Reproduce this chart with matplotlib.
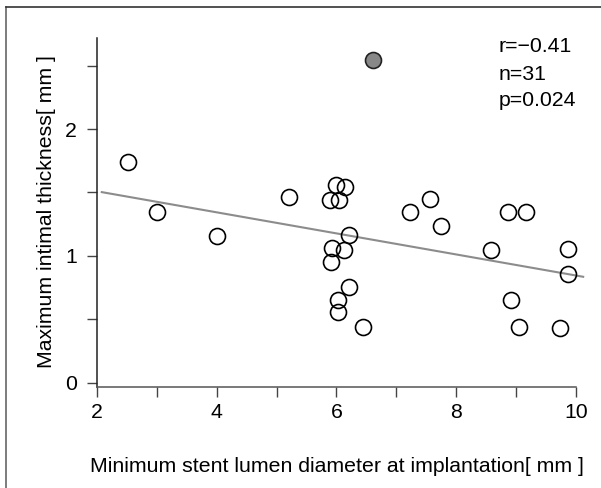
import matplotlib
matplotlib.use("Agg")
import matplotlib.pyplot as plt
from matplotlib.lines import Line2D

plt.rcParams['font.family'] = ['Liberation Sans', 'DejaVu Sans']

# open circles
x_open = [2.52, 3.00, 4.00, 5.21, 6.00, 6.14, 5.89, 6.04, 7.23, 7.56, 7.74, 8.87, 9.17,
          6.21, 5.92, 6.13, 5.91, 6.21, 6.03, 6.03, 6.44, 8.58, 9.87, 9.86, 8.91, 9.05, 9.73]
y_open = [1.74, 1.345, 1.156, 1.46, 1.557, 1.543, 1.44, 1.44, 1.343, 1.446, 1.238, 1.348, 1.343,
          1.165, 1.06, 1.046, 0.954, 0.757, 0.65, 0.555, 0.437, 1.046, 1.052, 0.854, 0.652, 0.437, 0.429]
# filled (outlier) point
x_filled = [6.61]
y_filled = [2.544]
# regression line
reg_x = [2.08, 10.12]
reg_intercept = 1.675
reg_slope = -0.083
stats_text = ["r=\u22120.41", "n=31", "p=0.024"]
xticks = [2, 3, 4, 5, 6, 7, 8, 9, 10]
xticklabels = ["2", "", "4", "", "6", "", "8", "", "10"]
yticks = [0, 0.5, 1, 1.5, 2, 2.5]
yticklabels = ["0", "", "1", "", "2", ""]

FS = 15.3
W, H = 601, 488
fig = plt.figure(figsize=(W / 100, H / 100), dpi=100)

# outer frame (left + top)
fig.add_artist(Line2D([5.5 / W, 5.5 / W], [0, 1 - 7 / H], color='#666666', lw=1.2))
fig.add_artist(Line2D([5.5 / W, 1], [1 - 7 / H, 1 - 7 / H], color='#333333', lw=1.2))

x0, x1 = 2.0, 10.2
y0, y1 = -0.034, 2.72
pxu_x = 59.875
pxu_y = 126.85
left_px = 97
right_px = left_px + (x1 - x0) * pxu_x
top_px = 382.7 - y1 * pxu_y
bot_px = 382.7 - y0 * pxu_y
ax = fig.add_axes([left_px / W, 1 - bot_px / H, (right_px - left_px) / W, (bot_px - top_px) / H])
ax.set_xlim(x0, x1)
ax.set_ylim(y0, y1)

ax.plot(reg_x, [reg_intercept + reg_slope * v for v in reg_x], color='#8c8c8c', lw=1.5, zorder=2)
ax.plot(x_open, y_open, 'o', ms=11.5, mfc='none', mec='black', mew=1.2, zorder=3)
ax.plot(x_filled, y_filled, 'o', ms=11.5, mfc='#888888', mec='#222222', mew=1.2, zorder=3)

for s in ['top', 'right']:
    ax.spines[s].set_visible(False)
ax.spines['bottom'].set_bounds(2, 10)
ax.spines['bottom'].set_color('#555555')
ax.spines['left'].set_color('#222222')
ax.spines['bottom'].set_linewidth(1.1)
ax.spines['left'].set_linewidth(1.1)

ax.set_xticks(xticks)
ax.set_xticklabels(xticklabels)
ax.set_yticks(yticks)
ax.set_yticklabels(yticklabels)
ax.tick_params(axis='both', direction='out', length=7.5, width=1.0, color='#444444',
               labelsize=FS, labelcolor='black')
ax.tick_params(axis='x', pad=4)
ax.tick_params(axis='y', pad=7)

fig.text(337 / W, 1 - 466 / H, "Minimum stent lumen diameter at implantation[ mm ]",
         ha='center', va='center', fontsize=FS)
fig.text(47 / W, 1 - 212 / H, "Maximum intimal thickness[ mm ]",
         ha='center', va='center', rotation=90, fontsize=FS)

for i, t in enumerate(stats_text):
    fig.text(499 / W, 1 - (47 + 27 * i) / H, t, ha='left', va='center', fontsize=FS)

fig.savefig("out.png", dpi=100)
